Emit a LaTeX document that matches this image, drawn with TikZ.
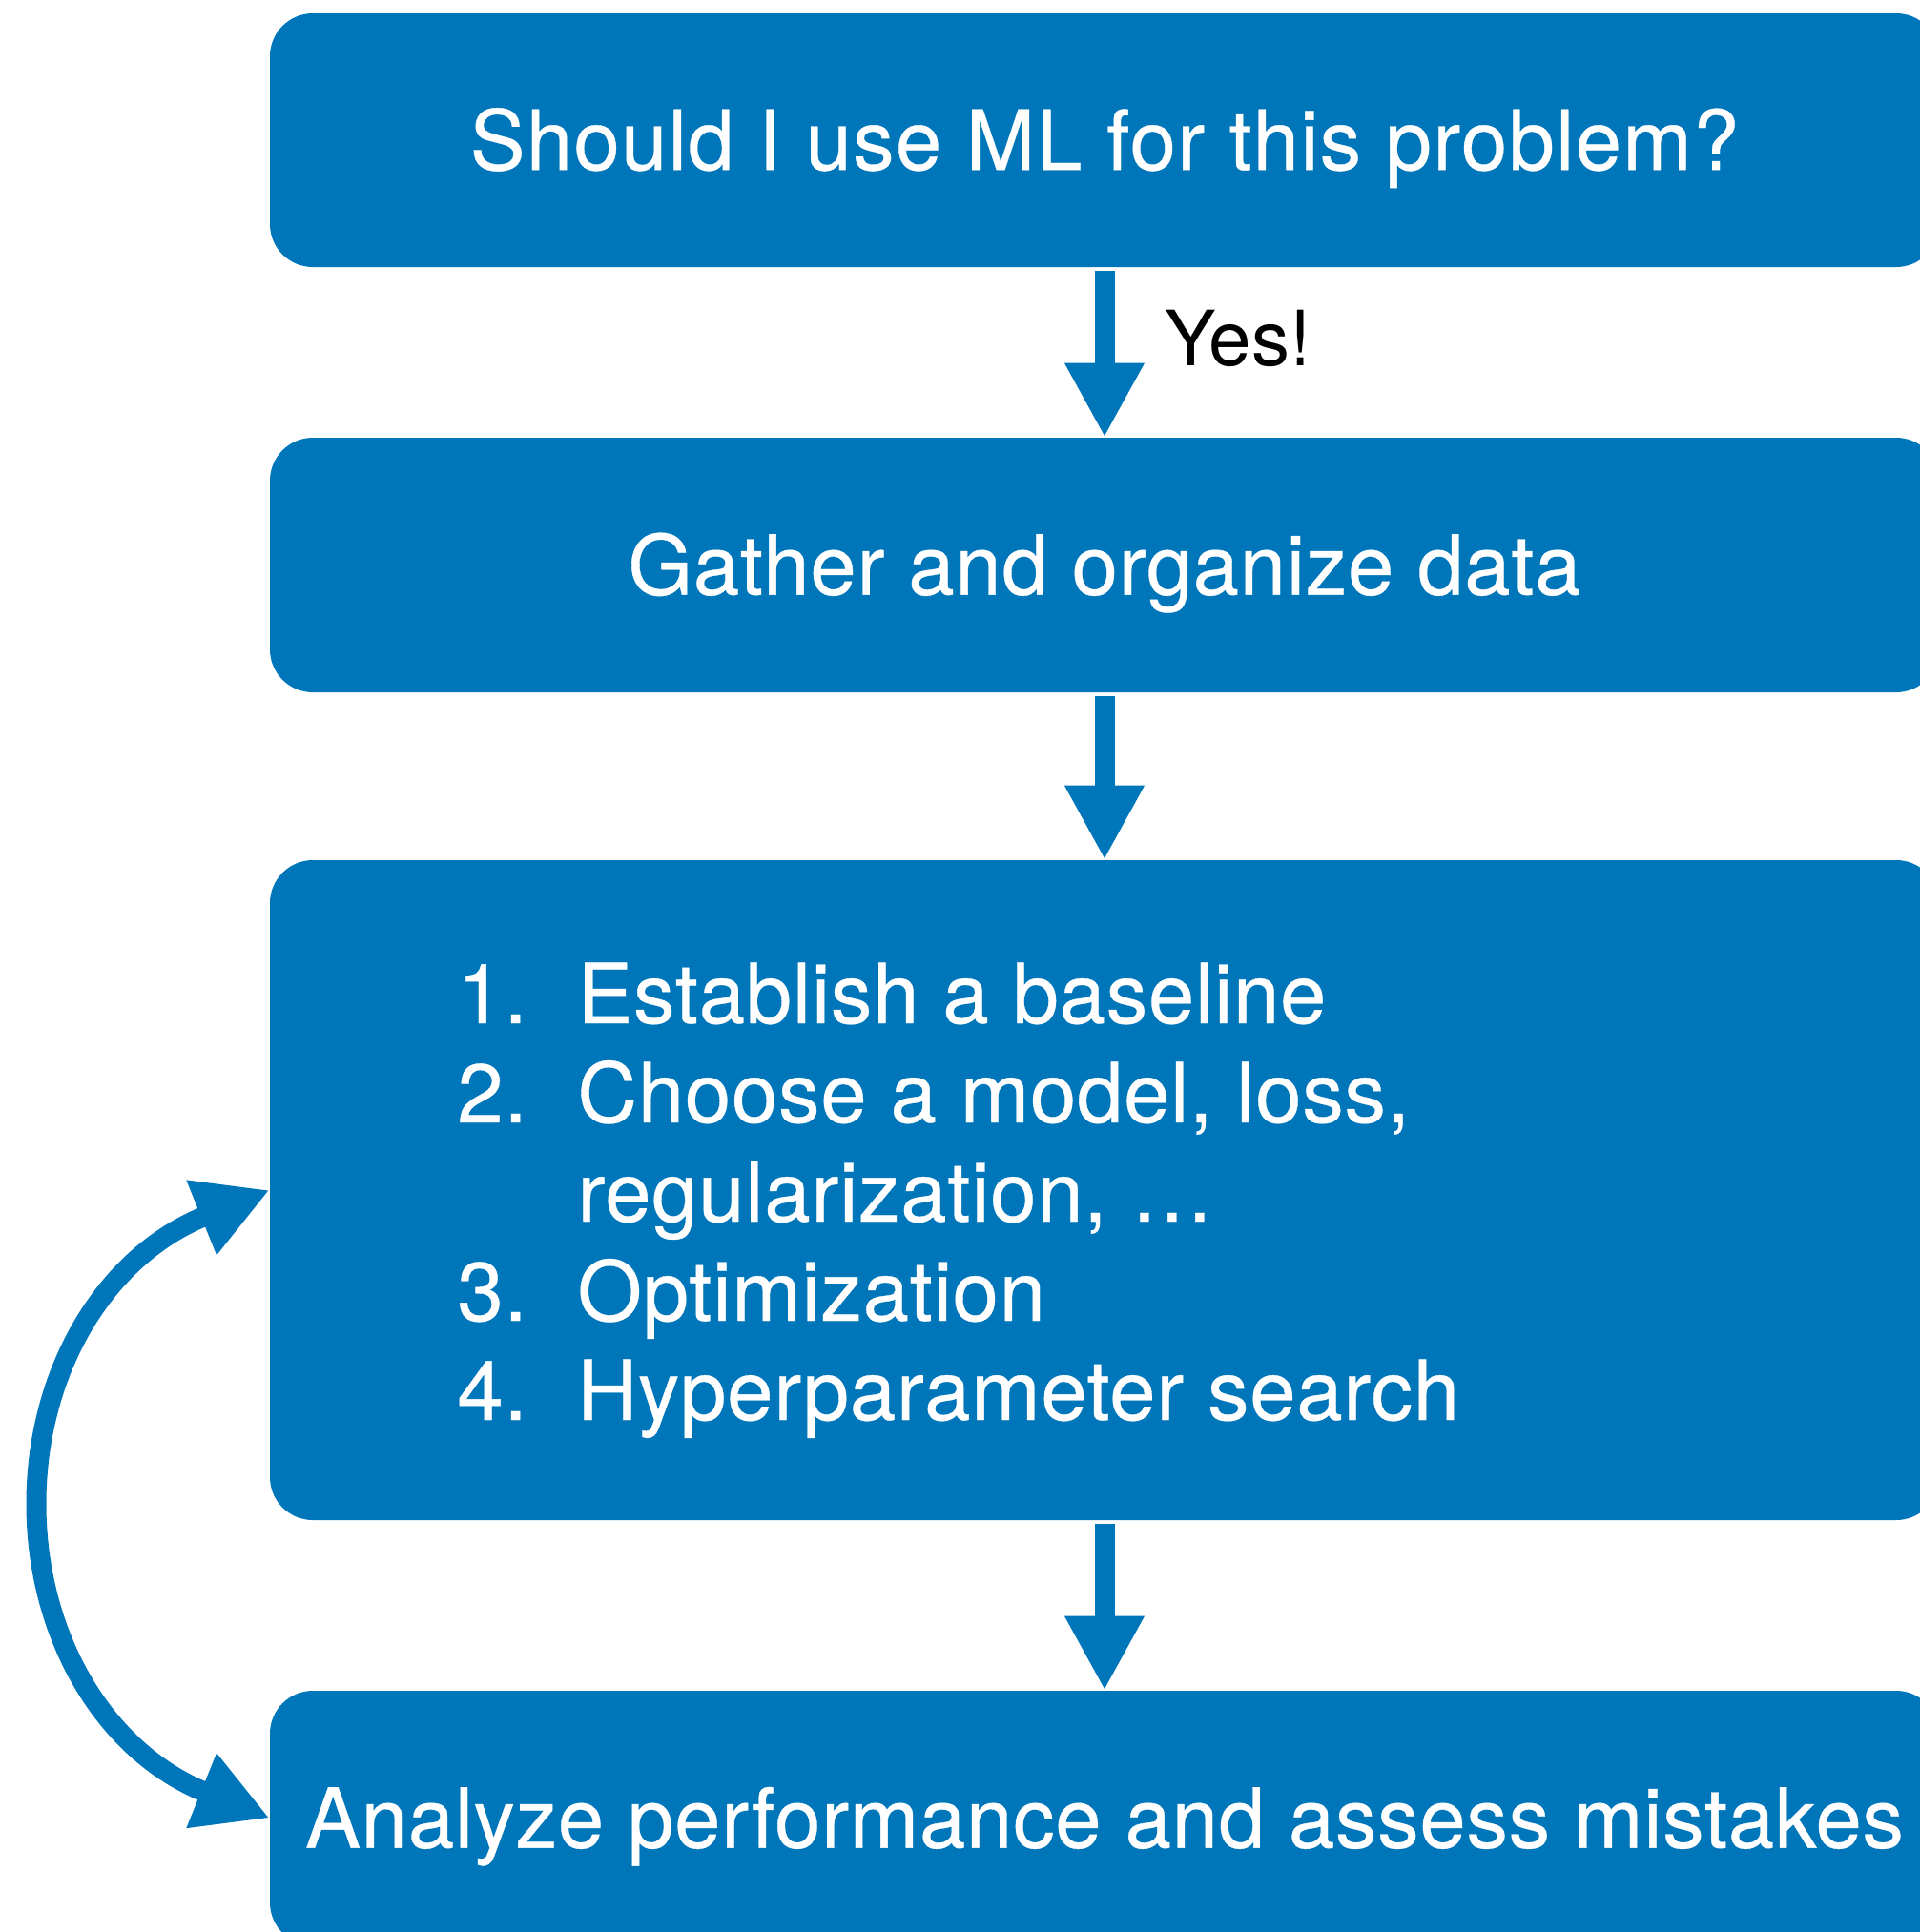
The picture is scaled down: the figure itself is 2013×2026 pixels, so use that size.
\documentclass[tikz,border=0pt]{standalone}
\usepackage{fontspec}
\setmainfont{TeX Gyre Heros}
\newfontfamily\stagefont{TeX Gyre Heros}[LetterSpace=0.8, FakeBold=0.4]
\usetikzlibrary{arrows.meta}
\definecolor{flowblue}{RGB}{0,118,186}
\begin{document}
\begin{tikzpicture}[x=0.5pt,y=-0.5pt,
  bigfont/.style={font=\stagefont\fontsize{43.5}{52}\selectfont},
  box/.style={fill=flowblue, rounded corners=22.5pt, minimum width=875pt,
    inner sep=0pt, text=white, bigfont},
  oneline/.style={text height=39pt, text depth=7.9pt},
  flow/.style={draw=flowblue, line width=10.5pt,
    -{Triangle[length=39pt,width=39pt]}, shorten <=2pt},
  loopflow/.style={draw=flowblue, line width=10.5pt,
    {Triangle[length=38.5pt,width=39.5pt]}-{Triangle[length=38.5pt,width=39.5pt]}},
  label/.style={text=black, inner sep=0pt, font=\fontsize{40}{48}\selectfont}
]
\useasboundingbox (0,0) rectangle (2013,2026);
\clip (0,0) rectangle (2013,2026);

% the four stages
\node[box, oneline, minimum height=133pt] (b1) at (1158,147)
  {\addfontfeature{LetterSpace=1.4}Should I use ML for this problem?};
\node[box, oneline, minimum height=133.5pt] (b2) at (1158,592.5)
  {Gather and organize data};
\node[box, minimum height=346pt] (b3) at (1158,1248) {};
\node[box, oneline, minimum height=133.5pt] (b4) at (1158,1906.5)
  {Analyze performance and assess mistakes};

% numbered steps inside the modelling box
\node[anchor=base west, inner sep=0pt, text=white, bigfont] (steps) at (479,1073)
  {\begin{tabular}[t]{@{}l@{}l@{}}
   \makebox[63pt][l]{1.} & Establish a baseline\\
   \makebox[63pt][l]{2.} & Choose a model, loss,\\
                         & regularization, …\\
   \makebox[63pt][l]{3.} & Optimization\\
   \makebox[63pt][l]{4.} & Hyperparameter search
   \end{tabular}};

% forward flow
\draw[flow] (b1.south) -- (b2.north);
\node[label, anchor=base west] (yes) at (1221,383) {Yes!};
\draw[flow] (b2.south) -- (b3.north);
\draw[flow] (b3.south) -- (b4.north);

% iterate between modelling and analysis
\coordinate (turn) at (38,1577);
\draw[loopflow] (b3.west) .. controls (109,1318) and (38,1439) .. (turn)
  .. controls (38,1715) and (109,1836.5) .. (b4.west);
\end{tikzpicture}
\end{document}
